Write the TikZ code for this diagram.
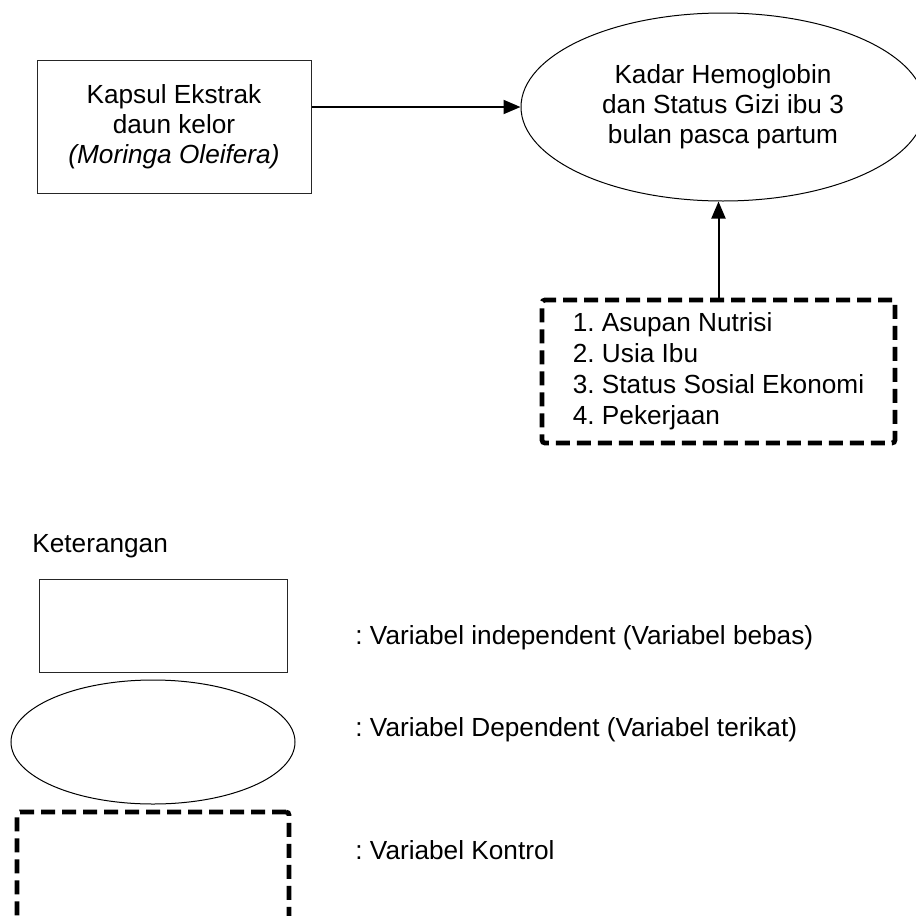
\documentclass[tikz,border=0pt]{standalone}
\usepackage{fontspec}
\setmainfont{Liberation Sans}
\frenchspacing
\usetikzlibrary{arrows.meta, shapes.geometric, positioning}
\tikzset{every node/.append style={align=center}}

\tikzset{
  varbox/.style={draw=black!85, line width=0.5pt, inner sep=0pt},
  varoval/.style={ellipse, draw, line width=0.5pt, inner sep=0pt},
  kontrolbox/.style={draw, line width=2.4pt, dash pattern=on 7pt off 3.5pt,
                     rounded corners=1.5pt, inner sep=0pt},
  arr/.style={line width=1pt, -{Triangle[length=8.5pt,width=7pt]}},
  ket/.style={anchor=west, inner sep=0pt},
}

\begin{document}
\begin{tikzpicture}[x=0.5pt, y=-0.5pt,
  every node/.append style={font=\fontsize{13.1}{15}\selectfont}]

% page frame (units are pixels of the 916 x 916 page)
\clip (0,0) rectangle (916,916);

% ── Top: variables ────────────────────────────────────────────────────────────
\node[varbox, minimum width=137pt, minimum height=66.5pt] (indep) at (174,126.5)
      {Kapsul Ekstrak\\daun kelor\\\textit{(Moringa Oleifera)}};

\node[varoval, minimum width=202pt, minimum height=94pt] (dep) at (723,107)
      {Kadar Hemoglobin\\dan Status Gizi ibu 3\\bulan pasca partum};

\node[kontrolbox, minimum width=176.5pt, minimum height=71.5pt, align=left,
      font=\fontsize{13.1}{15.5}\selectfont] (kontrol) at (718.5,371.5)
      {1. Asupan Nutrisi\\2. Usia Ibu\\3. Status Sosial Ekonomi\\4. Pekerjaan};

\draw[arr] (indep.east |- dep.west) -- (dep.west);
\draw[arr] (kontrol.north) -- (kontrol.north |- dep.south);

% ── Legend ────────────────────────────────────────────────────────────────────
\node[ket] (keterangan) at (32,546) {Keterangan};

\node[varbox, minimum width=124pt, minimum height=46.5pt] (lgbox) at (163,625.5) {};
\node[varoval, minimum width=142pt, minimum height=62pt] (lgoval) at (153,742) {};
\node[kontrolbox, minimum width=136pt, minimum height=71.5pt] (lgkontrol) at (153,883.5) {};

\node[ket] (lgbox-t) at (355,638) {: Variabel independent (Variabel bebas)};
\node[ket] (lgoval-t) at (355,730) {: Variabel Dependent (Variabel terikat)};
\node[ket] (lgkontrol-t) at (355,850) {: Variabel Kontrol};

\end{tikzpicture}
\end{document}
